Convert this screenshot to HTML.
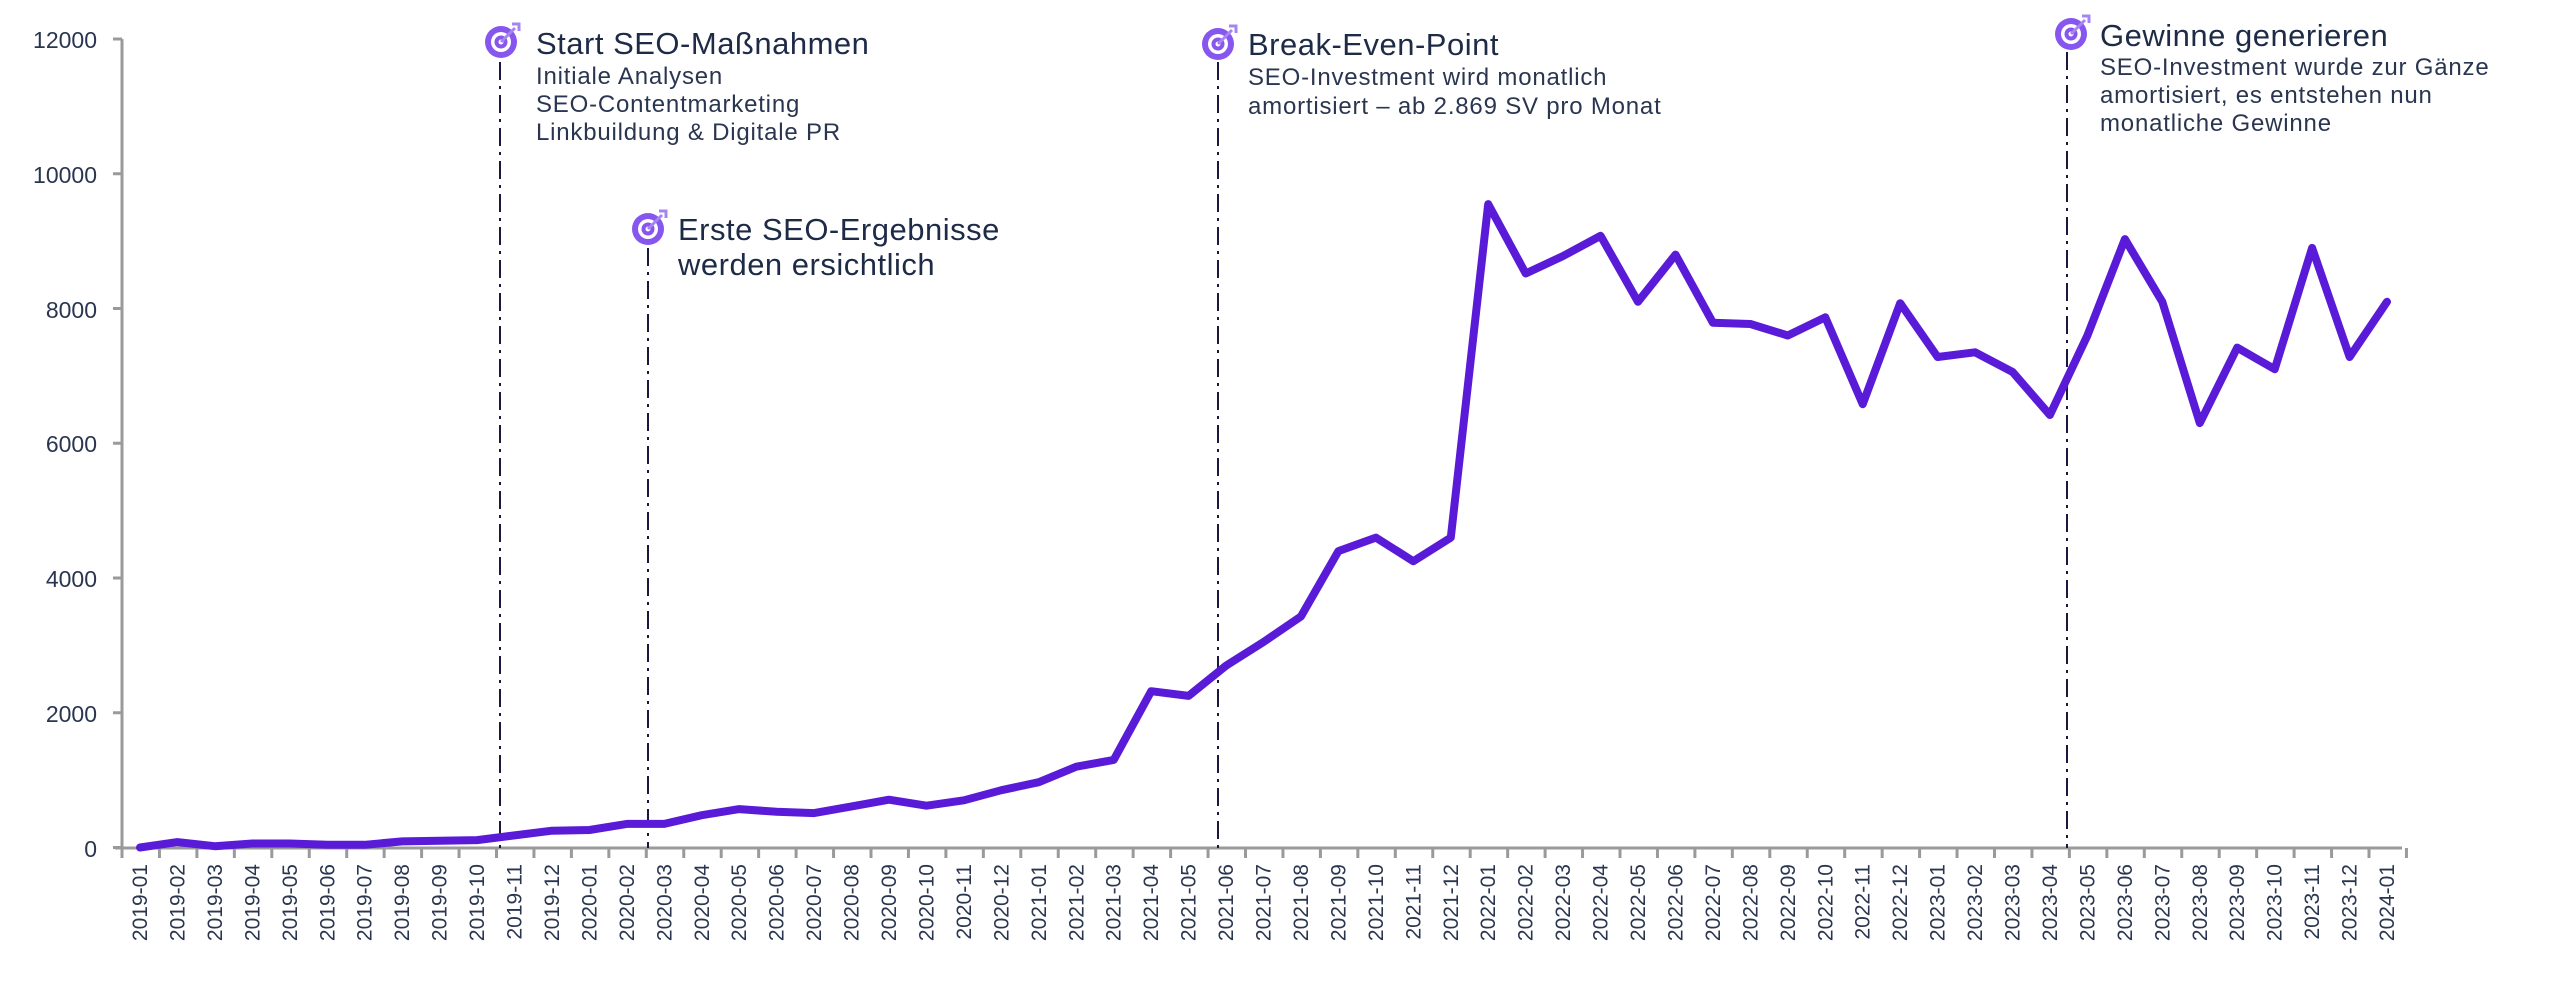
<!DOCTYPE html>
<html><head><meta charset="utf-8"><style>
html,body{margin:0;padding:0;background:#fff;}
svg{display:block;font-family:"Liberation Sans",sans-serif;}
.t{fill:#1e2b47;font-size:31px;letter-spacing:0.5px;}
.s{fill:#2a3650;font-size:24px;letter-spacing:0.8px;}
.yl{fill:#2a3650;font-size:23px;text-anchor:end;}
.xl{fill:#2a3650;font-size:21px;text-anchor:end;}
</style></head><body>
<svg id="c" width="2560" height="988" viewBox="0 0 2560 988" xmlns="http://www.w3.org/2000/svg">
<defs>
<g id="ic">
<circle r="16" fill="#8656ee"/>
<circle r="10" fill="#fff"/>
<circle r="6.5" fill="#8656ee"/>
<circle r="2.5" fill="#fff"/>
<line x1="0" y1="0" x2="14" y2="-14" stroke="#a684f2" stroke-width="3"/>
<path d="M11,-18 L18,-18 L18,-11" fill="none" stroke="#a684f2" stroke-width="3"/>
</g>
</defs>
<line x1="122" y1="39" x2="122" y2="848" stroke="#9a9a9a" stroke-width="3"/>
<line x1="115" y1="848" x2="2402" y2="848" stroke="#9a9a9a" stroke-width="3"/>
<g id="ticks" stroke="#9a9a9a" stroke-width="3"></g>
<text class="yl" x="97" y="48">12000</text>
<text class="yl" x="97" y="183">10000</text>
<text class="yl" x="97" y="318">8000</text>
<text class="yl" x="97" y="452">6000</text>
<text class="yl" x="97" y="587">4000</text>
<text class="yl" x="97" y="722">2000</text>
<text class="yl" x="97" y="857">0</text>
<g stroke="#1b1840" stroke-width="2" stroke-dasharray="18,6,3,6">
<line x1="500" y1="62" x2="500" y2="848"/>
<line x1="648" y1="248" x2="648" y2="848"/>
<line x1="1218" y1="62" x2="1218" y2="848"/>
<line x1="2067" y1="52" x2="2067" y2="848"/>
</g>
<polyline id="ln" fill="none" stroke="#5a1bd8" stroke-width="8" stroke-linejoin="round" stroke-linecap="round" points=""/>
<use href="#ic" x="501" y="42"/>
<text class="t" x="536" y="54">Start SEO-Maßnahmen</text>
<text class="s" x="536" y="84">Initiale Analysen</text>
<text class="s" x="536" y="112">SEO-Contentmarketing</text>
<text class="s" x="536" y="140">Linkbuildung &amp; Digitale PR</text>
<use href="#ic" x="648" y="229"/>
<text class="t" x="678" y="240">Erste SEO-Ergebnisse</text>
<text class="t" x="678" y="275">werden ersichtlich</text>
<use href="#ic" x="1218" y="44"/>
<text class="t" x="1248" y="55">Break-Even-Point</text>
<text class="s" x="1248" y="85">SEO-Investment wird monatlich</text>
<text class="s" x="1248" y="114">amortisiert – ab 2.869 SV pro Monat</text>
<use href="#ic" x="2071" y="34"/>
<text class="t" x="2100" y="46">Gewinne generieren</text>
<text class="s" x="2100" y="75">SEO-Investment wurde zur Gänze</text>
<text class="s" x="2100" y="103">amortisiert, es entstehen nun</text>
<text class="s" x="2100" y="131">monatliche Gewinne</text>
<g id="xl">
<text class="xl">2019-01</text><text class="xl">2019-02</text><text class="xl">2019-03</text><text class="xl">2019-04</text><text class="xl">2019-05</text><text class="xl">2019-06</text><text class="xl">2019-07</text><text class="xl">2019-08</text><text class="xl">2019-09</text><text class="xl">2019-10</text><text class="xl">2019-11</text><text class="xl">2019-12</text>
<text class="xl">2020-01</text><text class="xl">2020-02</text><text class="xl">2020-03</text><text class="xl">2020-04</text><text class="xl">2020-05</text><text class="xl">2020-06</text><text class="xl">2020-07</text><text class="xl">2020-08</text><text class="xl">2020-09</text><text class="xl">2020-10</text><text class="xl">2020-11</text><text class="xl">2020-12</text>
<text class="xl">2021-01</text><text class="xl">2021-02</text><text class="xl">2021-03</text><text class="xl">2021-04</text><text class="xl">2021-05</text><text class="xl">2021-06</text><text class="xl">2021-07</text><text class="xl">2021-08</text><text class="xl">2021-09</text><text class="xl">2021-10</text><text class="xl">2021-11</text><text class="xl">2021-12</text>
<text class="xl">2022-01</text><text class="xl">2022-02</text><text class="xl">2022-03</text><text class="xl">2022-04</text><text class="xl">2022-05</text><text class="xl">2022-06</text><text class="xl">2022-07</text><text class="xl">2022-08</text><text class="xl">2022-09</text><text class="xl">2022-10</text><text class="xl">2022-11</text><text class="xl">2022-12</text>
<text class="xl">2023-01</text><text class="xl">2023-02</text><text class="xl">2023-03</text><text class="xl">2023-04</text><text class="xl">2023-05</text><text class="xl">2023-06</text><text class="xl">2023-07</text><text class="xl">2023-08</text><text class="xl">2023-09</text><text class="xl">2023-10</text><text class="xl">2023-11</text><text class="xl">2023-12</text>
<text class="xl">2024-01</text>
</g>
</svg>
<script>
var d=[0,80,20,60,60,40,40,90,100,110,180,250,260,350,350,480,570,530,510,610,710,620,700,850,970,1200,1300,2320,2250,2700,3050,3430,4400,4600,4250,4600,9550,8520,8780,9080,8100,8800,7790,7770,7600,7870,6580,8080,7280,7350,7060,6420,7600,9030,8100,6300,7420,7100,8900,7280,8100];
function X(i){return 140+37.45*i;}
function Y(v){return 847.5-v*0.06737;}
var p=[];for(var i=0;i<d.length;i++)p.push(X(i).toFixed(1)+","+Y(d[i]).toFixed(1));
document.getElementById("ln").setAttribute("points",p.join(" "));
var ns="http://www.w3.org/2000/svg",tk=document.getElementById("ticks");
for(var i=0;i<=61;i++){var l=document.createElementNS(ns,"line");var x=122+37.45*i;l.setAttribute("x1",x);l.setAttribute("x2",x);l.setAttribute("y1",848);l.setAttribute("y2",858);tk.appendChild(l);}
for(var k=0;k<=6;k++){var l=document.createElementNS(ns,"line");var y=847.5-134.75*k;l.setAttribute("x1",113);l.setAttribute("x2",122);l.setAttribute("y1",y);l.setAttribute("y2",y);tk.appendChild(l);}
var ts=document.querySelectorAll("#xl text");
for(var i=0;i<ts.length;i++){var x=X(i)+7,y=864;ts[i].setAttribute("x",x);ts[i].setAttribute("y",y);ts[i].setAttribute("transform","rotate(-90 "+x+" "+y+")");}
</script>
</body></html>
